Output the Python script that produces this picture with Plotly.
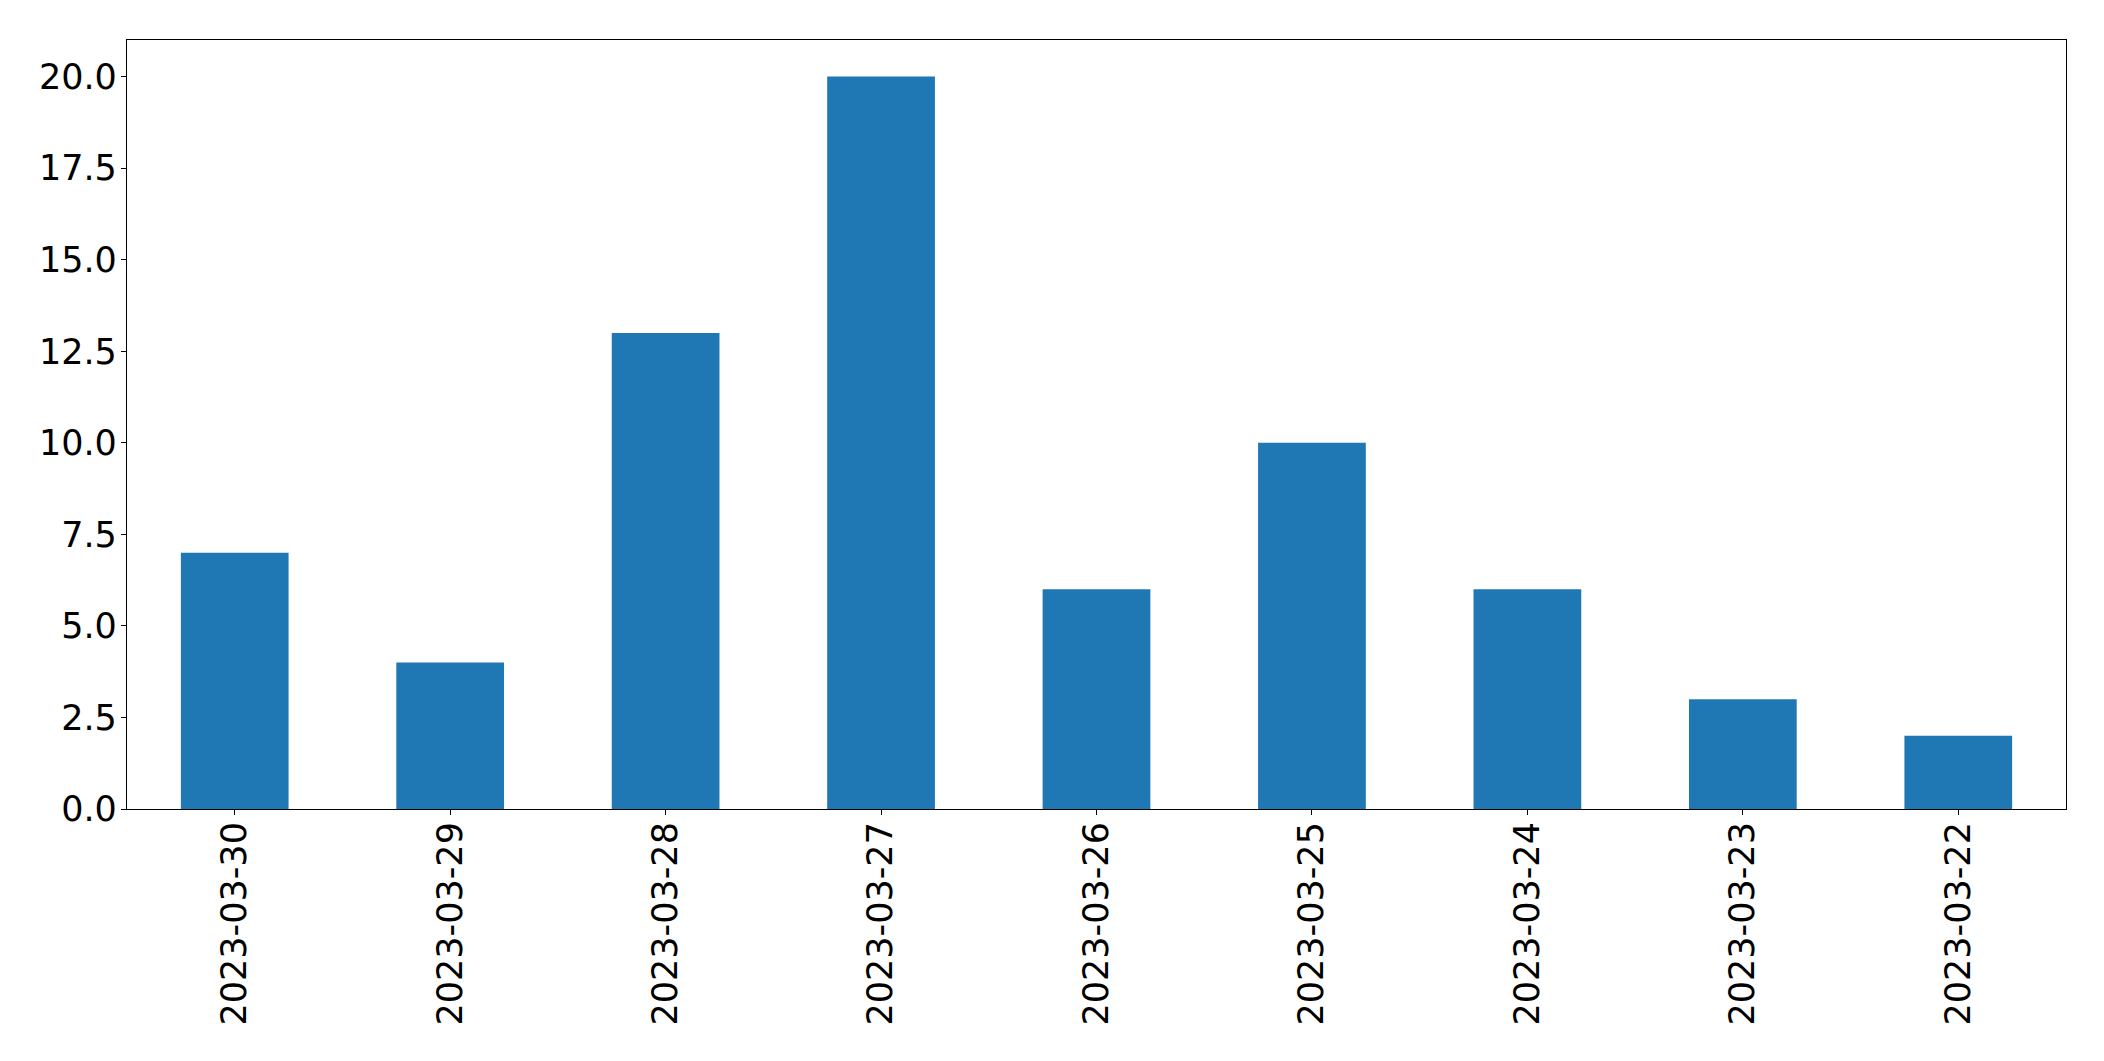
import plotly.graph_objects as go

dates = ["2023-03-30", "2023-03-29", "2023-03-28", "2023-03-27", "2023-03-26",
         "2023-03-25", "2023-03-24", "2023-03-23", "2023-03-22"]
counts = [7, 4, 13, 20, 6, 10, 6, 3, 2]
y_ticks = [0, 2.5, 5, 7.5, 10, 12.5, 15, 17.5, 20]
y_tick_labels = ["0.0", "2.5", "5.0", "7.5", "10.0", "12.5", "15.0", "17.5", "20.0"]

fig = go.Figure(go.Bar(x=dates, y=counts, marker_color="#1f77b4", marker_line_width=0, width=0.5))

font = dict(family="DejaVu Sans", size=35, color="black")
# page body has an 8px default margin, so the figure is shrunk and shifted accordingly
fig.update_layout(
    width=2096, height=1053,
    margin=dict(l=119, r=38, t=32, b=252),
    plot_bgcolor="white", paper_bgcolor="white",
    showlegend=False,
    font=font,
)
fig.update_xaxes(
    type="category", range=[-0.5, 8.5], tickangle=-90,
    showline=True, linecolor="black", linewidth=1.2, mirror=True,
    ticks="outside", ticklen=5, tickwidth=1.2, tickcolor="black",
    showgrid=False, zeroline=False, tickfont=font, ticklabelstandoff=-7,
)
fig.update_yaxes(
    range=[0, 21], tickvals=y_ticks, ticktext=y_tick_labels,
    showline=True, linecolor="black", linewidth=1.2, mirror=True,
    ticks="outside", ticklen=5, tickwidth=1.2, tickcolor="black",
    showgrid=False, zeroline=False, tickfont=font, ticklabelstandoff=-3,
)
fig.write_html("out.html")
